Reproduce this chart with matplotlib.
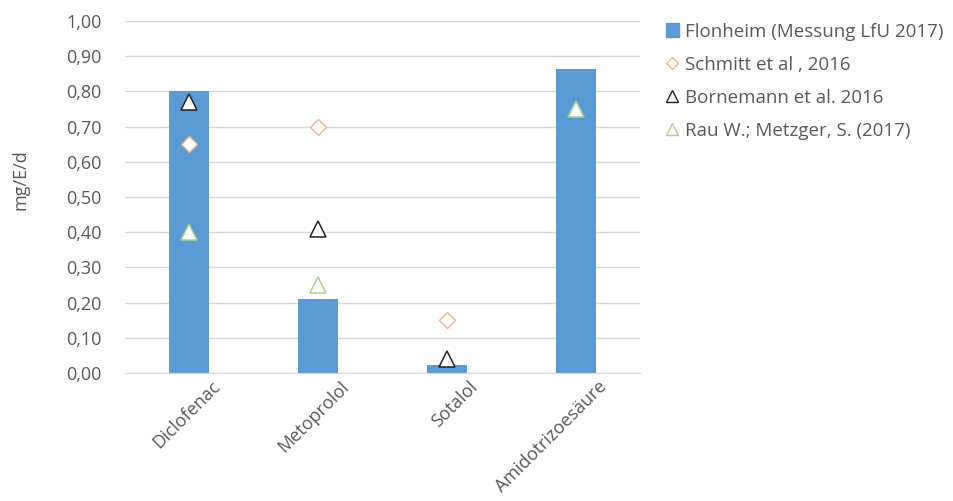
import numpy as np
import matplotlib
matplotlib.use("Agg")
import matplotlib.pyplot as plt
from matplotlib.lines import Line2D
from matplotlib.patches import Patch
from matplotlib.transforms import ScaledTranslation

plt.rcParams['font.family'] = ['Open Sans', 'DejaVu Sans']

# Wirkstoffe und Frachten in mg/E/d
substances = ["Diclofenac", "Metoprolol", "Sotalol", "Amidotrizoesäure"]
flonheim = [0.80, 0.21, 0.023, 0.865]
schmitt = [0.65, 0.70, 0.15, np.nan]
bornemann = [0.77, 0.41, 0.04, np.nan]
rau = [0.40, 0.25, np.nan, 0.75]

series_labels = ["Flonheim (Messung LfU 2017)", "Schmitt et al , 2016",
                 "Bornemann et al. 2016", "Rau W.; Metzger, S. (2017)"]

blue = "#5b9bd5"
orange = "#f4b183"
green = "#a9d18e"
text_col = "#595959"

fig = plt.figure(figsize=(9.54, 5.01), dpi=100)
ax = fig.add_axes([0.131, 0.2555, 0.54, 0.7025])

x = np.arange(len(substances))
ax.bar(x, flonheim, width=0.31, color=blue, zorder=2)

ms = 11
ax.plot(x, schmitt, linestyle="none", marker="D", markersize=ms * 0.7,
        markerfacecolor="white", markeredgecolor=orange, markeredgewidth=1, zorder=3)
ax.plot(x, bornemann, linestyle="none", marker="^", markersize=ms,
        markerfacecolor="white", markeredgecolor="#202020", markeredgewidth=1.1, zorder=3)
ax.plot(x, rau, linestyle="none", marker="^", markersize=ms,
        markerfacecolor="white", markeredgecolor=green, markeredgewidth=1.1, zorder=3)

ax.set_xlim(-0.5, len(substances) - 0.5)
ax.set_ylim(0, 1.0)
ax.set_yticks(np.arange(0, 1.01, 0.1))
ax.set_yticklabels([f"{v:.2f}".replace(".", ",") for v in np.arange(0, 1.01, 0.1)])
ax.yaxis.grid(True, color="#d9d9d9", linewidth=1, zorder=0)
ax.set_axisbelow(True)

for side in ["top", "right", "left"]:
    ax.spines[side].set_visible(False)
ax.spines["bottom"].set_color("#d9d9d9")
ax.tick_params(axis="both", length=0, colors=text_col, labelsize=13)
ax.tick_params(axis="y", pad=17)

ax.set_xticks(x)
ax.set_xticklabels(substances, rotation=45, ha="right", va="center",
                   rotation_mode="anchor", fontsize=13)
for lbl in ax.get_xticklabels():
    lbl.set_transform(lbl.get_transform() + ScaledTranslation(0.28, -0.06, fig.dpi_scale_trans))

ax.set_ylabel("mg/E/d", color=text_col, fontsize=13)
ax.yaxis.set_label_coords(-0.186, 0.55)

handles = [
    Patch(facecolor=blue, edgecolor=blue),
    Line2D([], [], linestyle="none", marker="D", markersize=6, markerfacecolor="white",
           markeredgecolor=orange),
    Line2D([], [], linestyle="none", marker="^", markersize=9, markerfacecolor="white",
           markeredgecolor="#202020"),
    Line2D([], [], linestyle="none", marker="^", markersize=9, markerfacecolor="white",
           markeredgecolor=green),
]
leg = fig.legend(handles, series_labels, loc="upper left", bbox_to_anchor=(0.69, 0.97),
                 frameon=False, fontsize=13.5, labelcolor=text_col, handlelength=0.7,
                 handletextpad=0.3, labelspacing=0.8, borderaxespad=0)

fig.savefig("out.png", dpi=100)
